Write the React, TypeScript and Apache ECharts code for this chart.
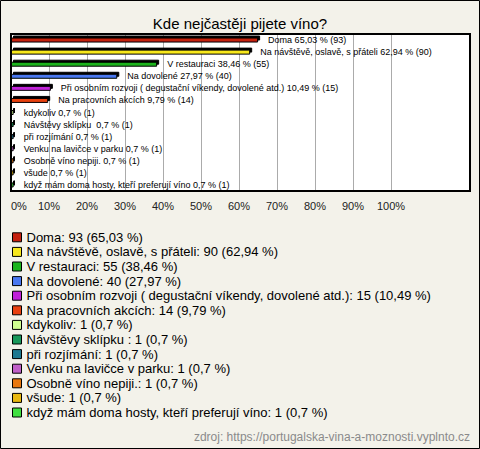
import React, { useEffect, useRef } from "react";
import * as echarts from "echarts";

const categories = [
  "Doma",
  "Na návštěvě, oslavě, s přáteli",
  "V restauraci",
  "Na dovolené",
  "Při osobním rozvoji ( degustační víkendy, dovolené atd.)",
  "Na pracovních akcích",
  "kdykoliv",
  "Návštěvy sklípku ",
  "při rozjímání",
  "Venku na lavičce v parku",
  "Osobně víno nepiji.",
  "všude",
  "když mám doma hosty, kteří preferují víno",
];
const counts = [93, 90, 55, 40, 15, 14, 1, 1, 1, 1, 1, 1, 1];
const percents = [65.03, 62.94, 38.46, 27.97, 10.49, 9.79, 0.7, 0.7, 0.7, 0.7, 0.7, 0.7, 0.7];
const colors = [
  "#c4200e",
  "#f8e81c",
  "#1cb41c",
  "#4a78f0",
  "#c020d8",
  "#e84010",
  "#d0ff90",
  "#18985a",
  "#1c7890",
  "#c060c8",
  "#e87810",
  "#e8b810",
  "#40e040",
];
const title = "Kde nejčastěji pijete víno?";
const source = "zdroj: https://portugalska-vina-a-moznosti.vyplnto.cz";

const fmt = (v: number) => String(v).replace(".", ",");
const FONT = "'Liberation Sans', Arial, sans-serif";

export default function App() {
  const ref = useRef<HTMLDivElement>(null);
  useEffect(() => {
    if (!ref.current) return;
    const chart = echarts.init(ref.current, null, { renderer: "svg" });
    const series = categories.map((name, i) => ({
      type: "bar",
      name,
      stack: "all",
      barWidth: 5,
      z: 5,
      data: categories.map((_, j) => (j === i ? percents[i] : null)),
      itemStyle: {
        color: colors[i],
        borderColor: "#000",
        borderWidth: 1,
        shadowColor: "#000",
        shadowBlur: 0,
        shadowOffsetX: 2,
        shadowOffsetY: -2,
      },
      label: {
        show: true,
        position: "right",
        distance: 10,
        fontSize: 9,
        fontFamily: FONT,
        color: "#000",
        formatter: () => `${name} ${fmt(percents[i])} % (${counts[i]})`,
      },
    }));
    chart.setOption({
      animation: false,
      backgroundColor: "#f3f2ea",
      title: {
        text: title,
        left: "center",
        top: 11,
        textStyle: { fontSize: 15, fontWeight: "normal", color: "#000", fontFamily: FONT },
      },
      grid: {
        left: 11,
        top: 34,
        width: 380,
        height: 157,
        show: true,
        backgroundColor: "#fff",
        borderWidth: 0,
      },
      xAxis: {
        type: "value",
        min: 0,
        max: 100,
        interval: 10,
        z: 3,
        axisLine: { show: false },
        axisTick: { show: false },
        splitLine: { show: true, lineStyle: { color: "#ababab", width: 1, type: "solid" } },
        axisLabel: {
          formatter: (v: number) => `${v}%`,
          fontSize: 11,
          fontFamily: FONT,
          color: "#222",
          margin: 9,
          alignMinLabel: "left",
        },
      },
      yAxis: {
        type: "category",
        data: categories,
        inverse: true,
        axisLine: { show: false },
        axisTick: { show: false },
        axisLabel: { show: false },
        splitLine: { show: false },
      },
      legend: {
        orient: "vertical",
        left: 7,
        top: 225,
        itemWidth: 9,
        itemHeight: 9,
        itemGap: 0,
        icon: "rect",
        data: categories,
        itemStyle: {
          borderColor: "#000",
          borderWidth: 1,
          shadowColor: "transparent",
          shadowBlur: 0,
          shadowOffsetX: 0,
          shadowOffsetY: 0,
        },
        textStyle: { fontSize: 13, lineHeight: 14.6, fontFamily: FONT, color: "#000" },
        formatter: (name: string) => {
          const i = categories.indexOf(name);
          return `${name}: ${counts[i]} (${fmt(percents[i])} %)`;
        },
        selectedMode: false,
      },
      graphic: [
        {
          type: "rect",
          z: -10,
          silent: true,
          shape: { x: 392, y: 34, width: 78, height: 157 },
          style: { fill: "#fff" },
        },
        {
          type: "rect",
          z: 100,
          silent: true,
          shape: { x: 11, y: 34, width: 459, height: 157 },
          style: { fill: "none", stroke: "#000", lineWidth: 2 },
        },
        {
          type: "rect",
          z: 100,
          silent: true,
          shape: { x: 0.5, y: 0.5, width: 479, height: 448 },
          style: { fill: "none", stroke: "#000", lineWidth: 1 },
        },
        {
          type: "text",
          right: 10,
          top: 431,
          style: { text: source, fontSize: 12, fontFamily: FONT, fill: "#8a8a8a" },
        },
      ],
      series,
    });
    return () => chart.dispose();
  }, []);
  return (
    <div
      ref={ref}
      style={{ position: "fixed", left: 0, top: 0, width: 480, height: 449 }}
    />
  );
}
